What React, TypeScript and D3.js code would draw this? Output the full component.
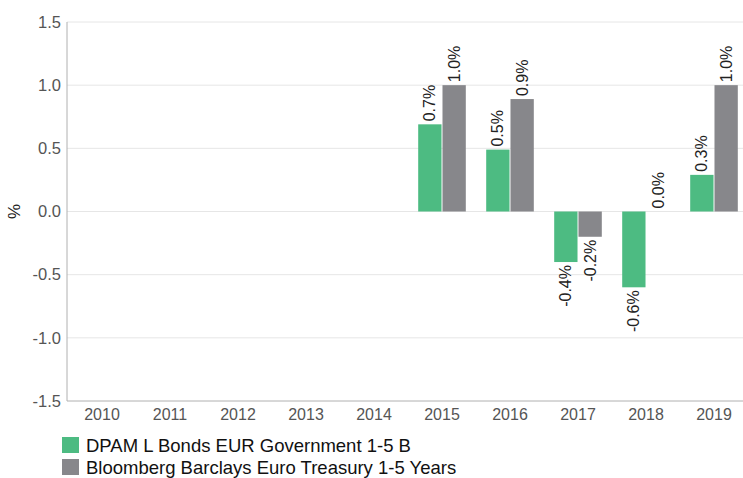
import React from "react";
import * as d3 from "d3";

const years = ["2010", "2011", "2012", "2013", "2014", "2015", "2016", "2017", "2018", "2019"];
const seriesNames = ["DPAM L Bonds EUR Government 1-5 B", "Bloomberg Barclays Euro Treasury 1-5 Years"];
const fundValues: (number | null)[] = [null, null, null, null, null, 0.69, 0.49, -0.4, -0.6, 0.29];
const benchValues: (number | null)[] = [null, null, null, null, null, 1.0, 0.89, -0.2, 0.0, 1.0];
const fundLabels = ["", "", "", "", "", "0.7%", "0.5%", "-0.4%", "-0.6%", "0.3%"];
const benchLabels = ["", "", "", "", "", "1.0%", "0.9%", "-0.2%", "0.0%", "1.0%"];
const yTicks = [-1.5, -1.0, -0.5, 0.0, 0.5, 1.0, 1.5];
const colors = ["#4dbb82", "#87878b"];

const W = 743;
const H = 478;
const left = 67;
const right = 748;
const top = 22;
const bottom = 401;
const font = "'Liberation Sans', Arial, sans-serif";

export default function App() {
  const y = d3.scaleLinear().domain([-1.5, 1.5]).range([bottom, top]);
  const x0 = d3.scaleBand<string>().domain(years).range([left + 1, right]).paddingInner(0.3).paddingOuter(0.15);
  const x1 = d3.scaleBand<string>().domain(["0", "1"]).range([0, x0.bandwidth()]).paddingInner(0.04);
  const series = [
    { values: fundValues, labels: fundLabels },
    { values: benchValues, labels: benchLabels },
  ];
  const xCenter = d3.scaleBand<string>().domain(years).range([left + 1, right]);

  return (
    <svg width={W} height={H} style={{ position: "absolute", left: 0, top: 0, background: "#fff" }} fontFamily={font}>
      {yTicks.map((t) => (
        <g key={t}>
          {t !== -1.5 && (
            <line x1={left} x2={W} y1={y(t)} y2={y(t)} stroke="#e6e6e6" strokeWidth={1} />
          )}
          <text x={61} y={y(t)} dy="0.35em" textAnchor="end" fontSize={16.5} fill="#555">
            {t.toFixed(1)}
          </text>
        </g>
      ))}
      <line x1={left} x2={W} y1={bottom} y2={bottom} stroke="#b0b0b0" strokeWidth={1} />
      <line x1={left} x2={left} y1={top} y2={bottom} stroke="#b0b0b0" strokeWidth={1} />
      <text transform={`translate(20,${y(0)}) rotate(-90)`} textAnchor="middle" fontSize={17} fill="#222">
        %
      </text>
      {years.map((yr) => (
        <text key={yr} x={(xCenter(yr) as number) + xCenter.bandwidth() / 2} y={420} textAnchor="middle" fontSize={16} fill="#555">
          {yr}
        </text>
      ))}
      {series.map((s, si) =>
        years.map((yr, i) => {
          const v = s.values[i];
          if (v === null) return null;
          const bx = (x0(yr) as number) + (x1(String(si)) as number);
          const bw = x1.bandwidth();
          const y0 = y(0);
          const yv = y(v);
          const cx = bx + bw / 2;
          const labelY = v >= 0 ? yv - 3 : yv + 3;
          return (
            <g key={`${si}-${yr}`}>
              <rect x={bx} y={Math.min(y0, yv)} width={bw} height={Math.abs(yv - y0)} fill={colors[si]} />
              <text
                transform={`translate(${cx},${labelY}) rotate(-90)`}
                textAnchor={v >= 0 ? "start" : "end"}
                dy="0.35em"
                fontSize={16}
                fill="#222"
              >
                {s.labels[i]}
              </text>
            </g>
          );
        })
      )}
      {seriesNames.map((n, i) => (
        <g key={n}>
          <rect x={62} y={437 + i * 22} width={17} height={16} fill={colors[i]} />
          <text x={86} y={452 + i * 22} fontSize={18.5} fill="#111">
            {n}
          </text>
        </g>
      ))}
    </svg>
  );
}
